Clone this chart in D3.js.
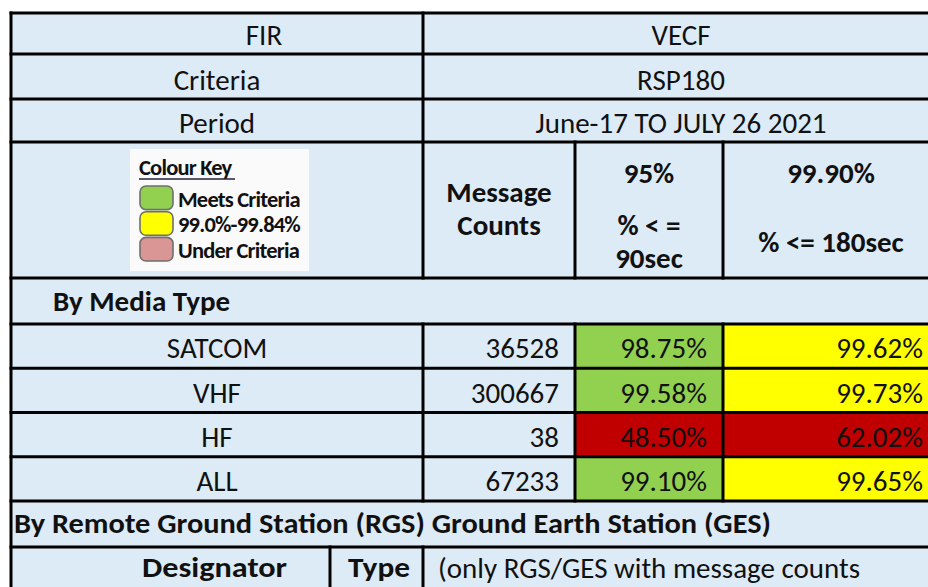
<!DOCTYPE html>
<html>
<head>
<meta charset="utf-8">
<script src="https://cdn.jsdelivr.net/npm/d3@7"></script>
<style>
  html, body { margin: 0; padding: 0; background: #fff; }
  svg { display: block; }
  text { font-family: Carlito, Calibri, Lato, sans-serif; fill: #111; }
</style>
</head>
<body>
<div id="chart"></div>
<script>
// table contents
const fieldLabels = ["FIR", "Criteria", "Period"]
const fieldValues = ["VECF", "RSP180", "June-17 TO JULY 26 2021"]
const mediaTypes = ["SATCOM", "VHF", "HF", "ALL"]
const messageCounts = [36528, 300667, 38, 67233]
const pct90 = [98.75, 99.58, 48.50, 99.10]
const pct180 = [99.62, 99.73, 62.02, 99.65]
const keyLabels = ["Meets Criteria", "99.0%-99.84%", "Under Criteria"]
const keyColours = ["#92d050", "#ffff00", "#da9694"]
const sectionTitles = ["By Media Type", "By Remote Ground Station (RGS) Ground Earth Station (GES)"]
const gesHeaders = ["Designator", "Type", "(only RGS/GES with message counts"]

const W = 928, H = 587
const FS = 29
const bg = '#ddebf7'
const green = '#92d050', yellow = '#ffff00', red = '#c00000'

// colour rules
const col90 = d3.scaleThreshold().domain([95]).range([red, green])
const col180 = d3.scaleThreshold().domain([99.0, 99.9]).range([red, yellow, green])

// column edges
const xL = 11, xA = 423, xB = 575, xC = 723, xR = 939, xT = 330

// rows
const yTop = 13
const fieldY = d3.scaleOrdinal().domain(fieldLabels).range([13, 54, 99])
const fieldH = d3.scaleOrdinal().domain(fieldLabels).range([41, 45, 43])
const yKey = 142, yMediaTitle = 278
const mediaY = d3.scaleBand().domain(mediaTypes).range([324, 501])
const yGesTitle = 501, yGesHead = 547, yBottom = 610

const svg = d3.select('#chart').append('svg')
  .attr('width', W)
  .attr('height', H)

svg.append('rect').attr('width', W).attr('height', H).attr('fill', '#fff')
svg.append('rect')
  .attr('x', xL).attr('y', yTop)
  .attr('width', xR - xL).attr('height', yBottom - yTop)
  .attr('fill', bg)

// coloured percentage cells
let cells = svg.append('g')
cells.selectAll('.c90')
  .data(mediaTypes)
  .enter().append('rect')
  .attr('x', xB).attr('y', d => mediaY(d))
  .attr('width', xC - xB).attr('height', mediaY.bandwidth())
  .attr('fill', (d, i) => col90(pct90[i]))
cells.selectAll('.c180')
  .data(mediaTypes)
  .enter().append('rect')
  .attr('x', xC).attr('y', d => mediaY(d))
  .attr('width', xR - xC).attr('height', mediaY.bandwidth())
  .attr('fill', (d, i) => col180(pct180[i]))

// grid lines
let grid = svg.append('g').attr('stroke', '#000').attr('stroke-width', 3)
let hLines = [yTop, ...fieldLabels.slice(1).map(d => fieldY(d)), yKey, yMediaTitle,
  ...mediaTypes.map(d => mediaY(d)), yGesTitle, yGesHead]
grid.selectAll('.h')
  .data(hLines)
  .enter().append('line')
  .attr('x1', xL - 1.5).attr('x2', xR)
  .attr('y1', d => d).attr('y2', d => d)

let vLines = [
  [xL, yTop, yBottom],
  [xA, yTop, yMediaTitle],
  [xB, yKey, yMediaTitle],
  [xC, yKey, yMediaTitle],
  [xA, mediaY(mediaTypes[0]), yGesTitle],
  [xB, mediaY(mediaTypes[0]), yGesTitle],
  [xC, mediaY(mediaTypes[0]), yGesTitle],
  [xT, yGesHead, yBottom],
  [xA, yGesHead, yBottom]
]
grid.selectAll('.v')
  .data(vLines)
  .enter().append('line')
  .attr('x1', d => d[0]).attr('x2', d => d[0])
  .attr('y1', d => d[1] - 1.5).attr('y2', d => d[2] + 1.5)

// header fields
let txt = svg.append('g').style('font-size', FS + 'px')
const labelX = d3.scaleOrdinal().domain(fieldLabels).range([264, 217, 217])
txt.selectAll('.fl')
  .data(fieldLabels)
  .enter().append('text')
  .attr('x', d => labelX(d))
  .attr('y', d => fieldY(d) + fieldH(d) - 9)
  .attr('text-anchor', 'middle')
  .text(d => d)
txt.selectAll('.fv')
  .data(fieldValues)
  .enter().append('text')
  .attr('x', (xA + xR) / 2)
  .attr('y', (d, i) => fieldY(fieldLabels[i]) + fieldH(fieldLabels[i]) - 9)
  .attr('text-anchor', 'middle')
  .text(d => d)

// column headers
let bold = txt.append('g').style('font-weight', 'bold')
bold.append('text').attr('x', (xA + xB) / 2).attr('y', 202).attr('text-anchor', 'middle').text('Message')
bold.append('text').attr('x', (xA + xB) / 2).attr('y', 235).attr('text-anchor', 'middle').text('Counts')
bold.append('text').attr('x', (xB + xC) / 2).attr('y', 183).attr('text-anchor', 'middle').text('95%')
bold.append('text').attr('x', (xB + xC) / 2).attr('y', 235).attr('text-anchor', 'middle').text('% < =')
bold.append('text').attr('x', (xB + xC) / 2).attr('y', 268).attr('text-anchor', 'middle').text('90sec')
bold.append('text').attr('x', (xC + xR) / 2).attr('y', 183).attr('text-anchor', 'middle').text('99.90%')
bold.append('text').attr('x', (xC + xR) / 2).attr('y', 252).attr('text-anchor', 'middle').text('% <= 180sec')

bold.append('text').attr('x', 53).attr('y', 311).text(sectionTitles[0])
bold.append('text').attr('x', 14).attr('y', 533)
  .attr('textLength', 757).attr('lengthAdjust', 'spacingAndGlyphs')
  .text(sectionTitles[1])
bold.append('text').attr('x', 142).attr('y', 577)
  .attr('textLength', 145).attr('lengthAdjust', 'spacingAndGlyphs')
  .text(gesHeaders[0])
bold.append('text').attr('x', 348).attr('y', 577)
  .attr('textLength', 62).attr('lengthAdjust', 'spacingAndGlyphs')
  .text(gesHeaders[1])
txt.append('text').attr('x', 438).attr('y', 578).text(gesHeaders[2])

// media rows
let rows = txt.selectAll('.row')
  .data(mediaTypes)
  .enter().append('g')
  .attr('transform', d => `translate(0,${mediaY(d) + mediaY.bandwidth() - 10})`)
rows.append('text').attr('x', (xL + xA) / 2).attr('text-anchor', 'middle').text(d => d)
rows.append('text').attr('x', xB - 16).attr('text-anchor', 'end').text((d, i) => messageCounts[i])
rows.append('text').attr('x', xC - 16).attr('text-anchor', 'end').text((d, i) => pct90[i].toFixed(2) + '%')
rows.append('text').attr('x', xR - 16).attr('text-anchor', 'end').text((d, i) => pct180[i].toFixed(2) + '%')

// colour key picture
let key = svg.append('g').attr('transform', 'translate(130,149)')
key.append('rect').attr('width', 179).attr('height', 122).attr('fill', '#fafafa')
let keyTxt = key.append('g').style('font-size', '22.5px').style('letter-spacing', '-0.8px')
keyTxt.append('text').attr('x', 9).attr('y', 26).style('font-weight', 'bold').attr('fill', '#22223a').text('Colour Key')
key.append('line').attr('x1', 9).attr('x2', 105).attr('y1', 30).attr('y2', 30)
  .attr('stroke', '#22223a').attr('stroke-width', 1.3)
const keyY = d3.scaleBand().domain(keyLabels).range([37, 112]).paddingInner(0.08)
key.selectAll('.sw')
  .data(keyLabels)
  .enter().append('rect')
  .attr('x', 10).attr('y', d => keyY(d))
  .attr('width', 33).attr('height', keyY.bandwidth())
  .attr('rx', 6)
  .attr('fill', (d, i) => keyColours[i])
  .attr('stroke', '#6f6f6f').attr('stroke-width', 1.6)
keyTxt.selectAll('.kl')
  .data(keyLabels)
  .enter().append('text')
  .attr('x', 48).attr('y', d => keyY(d) + keyY.bandwidth() - 3)
  .style('font-weight', 'bold')
  .attr('fill', '#22223a')
  .text(d => d)
</script>
</body>
</html>
